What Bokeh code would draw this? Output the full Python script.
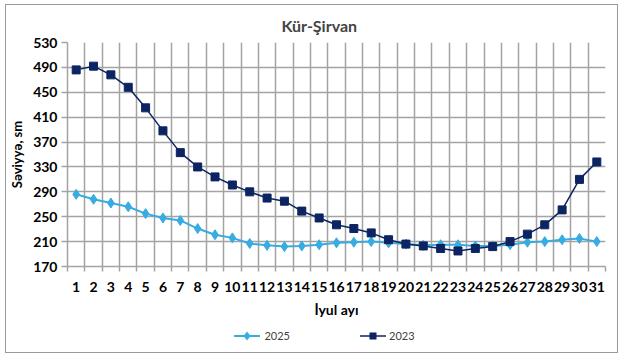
from bokeh.plotting import figure
from bokeh.models import FixedTicker, Range1d, Div
from bokeh.layouts import column
from bokeh.embed import file_html
from bokeh.resources import INLINE

days = [1, 2, 3, 4, 5, 6, 7, 8, 9, 10, 11, 12, 13, 14, 15, 16,
        17, 18, 19, 20, 21, 22, 23, 24, 25, 26, 27, 28, 29, 30, 31]
level_2025 = [286, 278, 272, 266, 255, 248, 244, 231, 221, 216, 207,
              204, 202, 203, 205, 208, 209, 210, 208, 206, 204, 205,
              205, 203, 203, 205, 209, 210, 213, 215, 210]
level_2023 = [486, 492, 478, 458, 425, 388, 353, 330, 314, 301, 290,
              280, 275, 259, 248, 237, 231, 224, 213, 206, 203, 199,
              195, 199, 202, 210, 222, 237, 261, 310, 338]
y_ticks = [170, 210, 250, 290, 330, 370, 410, 450, 490, 530]
series_names = ["2025", "2023"]

FONT = "Lato"
GRID = "#a3a3a3"
C25 = "#36ace2"
C23 = "#0c2461"
FIG_W = 53 + 538 + 12

p = figure(frame_width=538, frame_height=224,
           x_range=Range1d(days[0] - 0.5, days[-1] + 0.5),
           y_range=Range1d(y_ticks[0], y_ticks[-1]),
           output_backend="svg", toolbar_location=None,
           min_border_left=53, min_border_right=12,
           min_border_top=36, min_border_bottom=0,
           background_fill_color="white", border_fill_color="white")
p.outline_line_color = None

p.title.text = "Kür-Şirvan"
p.title.text_font = FONT
p.title.text_font_size = "16px"
p.title.text_font_style = "bold"
p.title.align = "left"
p.title.offset = 214
p.title.standoff = 16

# x axis
p.xaxis.ticker = FixedTicker(ticks=days, minor_ticks=[d - 0.5 for d in days] + [days[-1] + 0.5])
p.xaxis.major_tick_out = 0
p.xaxis.major_tick_in = 0
p.xaxis.minor_tick_out = 5
p.xaxis.minor_tick_in = 0
p.xaxis.minor_tick_line_color = GRID
p.xaxis.minor_tick_line_width = 1.5
p.xaxis.axis_line_color = GRID
p.xaxis.axis_line_width = 1.5
p.xaxis.major_label_standoff = 10
p.xaxis.major_label_text_font = FONT
p.xaxis.major_label_text_font_size = "14px"
p.xaxis.major_label_text_font_style = "bold"
p.xaxis.major_label_text_color = "black"
p.xaxis.axis_label = "İyul ayı"
p.xaxis.axis_label_text_font = FONT
p.xaxis.axis_label_text_font_size = "14px"
p.xaxis.axis_label_text_font_style = "bold"
p.xaxis.axis_label_text_color = "black"
p.xaxis.axis_label_standoff = 6

# y axis
p.yaxis.ticker = FixedTicker(ticks=y_ticks)
p.yaxis.major_tick_out = 6
p.yaxis.major_tick_in = 0
p.yaxis.minor_tick_out = 0
p.yaxis.minor_tick_in = 0
p.yaxis.major_tick_line_color = GRID
p.yaxis.major_tick_line_width = 1.5
p.yaxis.axis_line_color = GRID
p.yaxis.axis_line_width = 1.5
p.yaxis.major_label_standoff = 4
p.yaxis.major_label_text_font = FONT
p.yaxis.major_label_text_font_size = "14px"
p.yaxis.major_label_text_font_style = "bold"
p.yaxis.major_label_text_color = "black"
p.yaxis.axis_label = "Səviyyə, sm"
p.yaxis.axis_label_text_font = FONT
p.yaxis.axis_label_text_font_size = "13px"
p.yaxis.axis_label_text_font_style = "bold"
p.yaxis.axis_label_text_color = "black"
p.yaxis.axis_label_standoff = 5

# grids
p.xgrid.grid_line_color = None
p.xgrid.minor_grid_line_color = GRID
p.xgrid.minor_grid_line_width = 1.5
p.ygrid.grid_line_color = GRID
p.ygrid.grid_line_width = 1.5

# series
p.line(days, level_2025, line_color=C25, line_width=2)
p.scatter(days, level_2025, marker="diamond", size=10,
          fill_color=C25, line_color=C25)
p.line(days, level_2023, line_color=C23, line_width=1.5)
p.scatter(days, level_2023, marker="square", size=8,
          fill_color=C23, line_color=C23)

# legend row below the chart
sym_25 = ('<svg width="26" height="12" style="vertical-align:middle">'
          f'<line x1="0" y1="6" x2="26" y2="6" stroke="{C25}" stroke-width="2"/>'
          f'<polygon points="13,1.5 16.5,6 13,10.5 9.5,6" fill="{C25}"/></svg>')
sym_23 = ('<svg width="26" height="12" style="vertical-align:middle">'
          f'<line x1="0" y1="6" x2="26" y2="6" stroke="{C23}" stroke-width="1.5"/>'
          f'<rect x="9.5" y="2.5" width="7" height="7" fill="{C23}"/></svg>')
legend_html = (
    f'<div style="width:{FIG_W}px;text-align:center;padding-top:8px;'
    f'padding-left:34px;box-sizing:border-box;font-family:Lato;font-size:11px;'
    f'line-height:14px;color:#404040;white-space:nowrap;">'
    f'{sym_25}<span style="margin-left:4px;vertical-align:middle">{series_names[0]}</span>'
    f'<span style="display:inline-block;width:70px"></span>'
    f'{sym_23}<span style="margin-left:3px;vertical-align:middle">{series_names[1]}</span>'
    '</div>')
legend_div = Div(text=legend_html, width=FIG_W, height=32, margin=(0, 0, 0, 0))

layout = column(p, legend_div, spacing=0, margin=(4, 0, 0, 5),
                styles={"border": "1px solid #9a9a9a", "background-color": "white"})

open("out.html", "w").write(file_html(layout, INLINE, title="Kür-Şirvan"))
